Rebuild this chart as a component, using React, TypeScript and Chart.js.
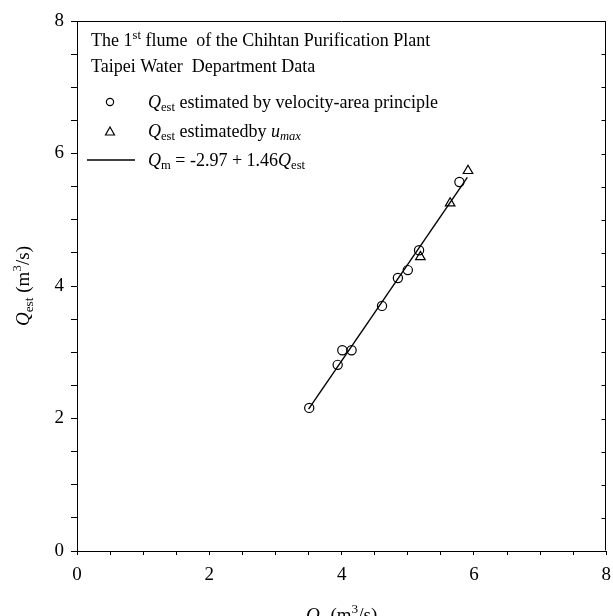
import React, { useEffect, useRef } from 'react';
import { Chart, registerables } from 'chart.js';
Chart.register(...registerables);

// ---- data ----
const circleX = [3.51, 3.94, 4.01, 4.15, 4.61, 4.85, 5.0, 5.17, 5.78];
const circleY = [2.16, 2.81, 3.03, 3.03, 3.7, 4.12, 4.24, 4.54, 5.57];
const triangleX = [5.19, 5.64, 5.91];
const triangleY = [4.44, 5.25, 5.74];
const fitX = [3.5, 5.9];
const fitY = [2.14, 5.64];
const majorTicks = [0, 2, 4, 6, 8];
const axisMin = 0;
const axisMax = 8;
const minorStep = 0.5;

const FONT = '"Liberation Serif", "Times New Roman", serif';

type Run = { t: string; it?: boolean; sub?: boolean; sup?: boolean };

function runFont(r: Run, size: number) {
  const s = r.sub || r.sup ? size * 0.7 : size;
  return `${r.it ? 'italic ' : ''}${s}px ${FONT}`;
}
function measureRuns(ctx: CanvasRenderingContext2D, runs: Run[], size: number) {
  let w = 0;
  for (const r of runs) {
    ctx.font = runFont(r, size);
    w += ctx.measureText(r.t).width;
  }
  return w;
}
function drawRuns(ctx: CanvasRenderingContext2D, runs: Run[], x: number, y: number, size: number) {
  let cx = x;
  for (const r of runs) {
    ctx.font = runFont(r, size);
    const dy = r.sub ? size * 0.22 : r.sup ? -size * 0.4 : 0;
    ctx.fillText(r.t, cx, y + dy);
    cx += ctx.measureText(r.t).width;
  }
}

const line1: Run[] = [{ t: 'The 1' }, { t: 'st', sup: true }, { t: ' flume  of the Chihtan Purification Plant' }];
const line2: Run[] = [{ t: 'Taipei Water  Department Data' }];
const leg1: Run[] = [{ t: 'Q', it: true }, { t: 'est', sub: true }, { t: ' estimated by velocity-area principle' }];
const leg2: Run[] = [
  { t: 'Q', it: true },
  { t: 'est', sub: true },
  { t: ' estimatedby ' },
  { t: 'u', it: true },
  { t: 'max', it: true, sub: true },
];
const leg3: Run[] = [
  { t: 'Q', it: true },
  { t: 'm', sub: true },
  { t: ' = -2.97 + 1.46' },
  { t: 'Q', it: true },
  { t: 'est', sub: true },
];
const yTitle: Run[] = [{ t: 'Q', it: true }, { t: 'est', sub: true }, { t: ' (m' }, { t: '3', sup: true }, { t: '/s)' }];
const xTitle: Run[] = [{ t: 'Q', it: true }, { t: 'e', sub: true }, { t: ' (m' }, { t: '3', sup: true }, { t: '/s)' }];

const decorPlugin = {
  id: 'decor',
  afterDraw(chart: any) {
    const ctx: CanvasRenderingContext2D = chart.ctx;
    const a = chart.chartArea;
    const ys = chart.scales.y;
    ctx.save();
    ctx.strokeStyle = '#000';
    ctx.fillStyle = '#000';
    ctx.lineWidth = 1;
    // frame top and right
    const L = Math.round(a.left) + 0.5;
    const R = Math.round(a.right) - 0.5;
    const T = Math.round(a.top) + 0.5;
    const B = Math.round(a.bottom) - 0.5;
    ctx.beginPath();
    ctx.moveTo(L, T);
    ctx.lineTo(R, T);
    ctx.lineTo(R, B);
    ctx.stroke();
    // inward ticks on right
    for (let v = axisMin; v <= axisMax + 1e-9; v += minorStep) {
      const py = Math.round(ys.getPixelForValue(v)) + 0.5;
      ctx.beginPath();
      ctx.moveTo(R, py);
      ctx.lineTo(R - 4, py);
      ctx.stroke();
    }
    // annotation text
    ctx.textAlign = 'left';
    ctx.textBaseline = 'alphabetic';
    drawRuns(ctx, line1, 91, 46, 18);
    drawRuns(ctx, line2, 91, 72, 18);
    // legend markers
    ctx.lineWidth = 1.2;
    ctx.beginPath();
    ctx.arc(110, 102, 3.6, 0, Math.PI * 2);
    ctx.stroke();
    ctx.beginPath();
    ctx.moveTo(110, 127);
    ctx.lineTo(114.5, 135);
    ctx.lineTo(105.5, 135);
    ctx.closePath();
    ctx.stroke();
    ctx.lineWidth = 1.5;
    ctx.beginPath();
    ctx.moveTo(87, 160);
    ctx.lineTo(135, 160);
    ctx.stroke();
    drawRuns(ctx, leg1, 148, 107.5, 18);
    drawRuns(ctx, leg2, 148, 136.5, 18);
    drawRuns(ctx, leg3, 148, 165.5, 18);
    // axis titles
    const cx = (a.left + a.right) / 2;
    const wx = measureRuns(ctx, xTitle, 19);
    drawRuns(ctx, xTitle, cx - wx / 2, 621, 19);
    const cy = (a.top + a.bottom) / 2;
    const wy = measureRuns(ctx, yTitle, 19);
    ctx.translate(29, cy);
    ctx.rotate(-Math.PI / 2);
    drawRuns(ctx, yTitle, -wy / 2, 0, 19);
    ctx.restore();
  },
};

export default function App() {
  const ref = useRef<HTMLCanvasElement | null>(null);
  useEffect(() => {
    if (!ref.current) return;
    const tickCb = (v: any) => (majorTicks.includes(Number(v)) ? String(v) : '');
    const chart = new Chart(ref.current, {
      type: 'scatter',
      data: {
        datasets: [
          {
            type: 'line',
            data: fitX.map((x, i) => ({ x, y: fitY[i] })),
            borderColor: '#000',
            borderWidth: 1.4,
            pointRadius: 0,
            fill: false,
            showLine: true,
          } as any,
          {
            data: circleX.map((x, i) => ({ x, y: circleY[i] })),
            pointStyle: 'circle',
            pointRadius: 4.6,
            borderColor: '#000',
            borderWidth: 1.2,
            backgroundColor: 'rgba(0,0,0,0)',
          },
          {
            data: triangleX.map((x, i) => ({ x, y: triangleY[i] })),
            pointStyle: 'triangle',
            pointRadius: 5.5,
            borderColor: '#000',
            borderWidth: 1.2,
            backgroundColor: 'rgba(0,0,0,0)',
          },
        ],
      },
      options: {
        animation: false,
        responsive: false,
        maintainAspectRatio: false,
        devicePixelRatio: 1,
        layout: { padding: { left: 0, top: 21, right: 3, bottom: 0 } },
        plugins: { legend: { display: false }, tooltip: { enabled: false } },
        scales: {
          x: {
            type: 'linear',
            min: axisMin,
            max: axisMax,
            afterFit(scale: any) {
              scale.height = 65;
              scale.paddingLeft = 0;
              scale.paddingRight = 0;
            },
            ticks: {
              stepSize: minorStep,
              autoSkip: false,
              maxRotation: 0,
              padding: 9,
              color: '#000',
              font: { family: FONT, size: 19 },
              callback: tickCb,
            },
            grid: { display: true, drawOnChartArea: false, drawTicks: true, tickLength: 4, color: '#000', lineWidth: 1 },
            border: { display: true, color: '#000', width: 1 },
          },
          y: {
            type: 'linear',
            min: axisMin,
            max: axisMax,
            afterFit(scale: any) {
              scale.width = 77;
              scale.paddingTop = 0;
              scale.paddingBottom = 0;
            },
            ticks: {
              stepSize: minorStep,
              autoSkip: false,
              padding: 7,
              color: '#000',
              font: { family: FONT, size: 19 },
              callback: tickCb,
            },
            grid: { display: true, drawOnChartArea: false, drawTicks: true, tickLength: 6, color: '#000', lineWidth: 1 },
            border: { display: true, color: '#000', width: 1 },
          },
        },
      },
      plugins: [decorPlugin],
    });
    return () => chart.destroy();
  }, []);
  return (
    <div style={{ position: 'absolute', left: 0, top: 0, width: 613, height: 616, overflow: 'hidden', background: '#fff' }}>
      <canvas ref={ref} width={613} height={616} style={{ display: 'block' }} />
    </div>
  );
}
